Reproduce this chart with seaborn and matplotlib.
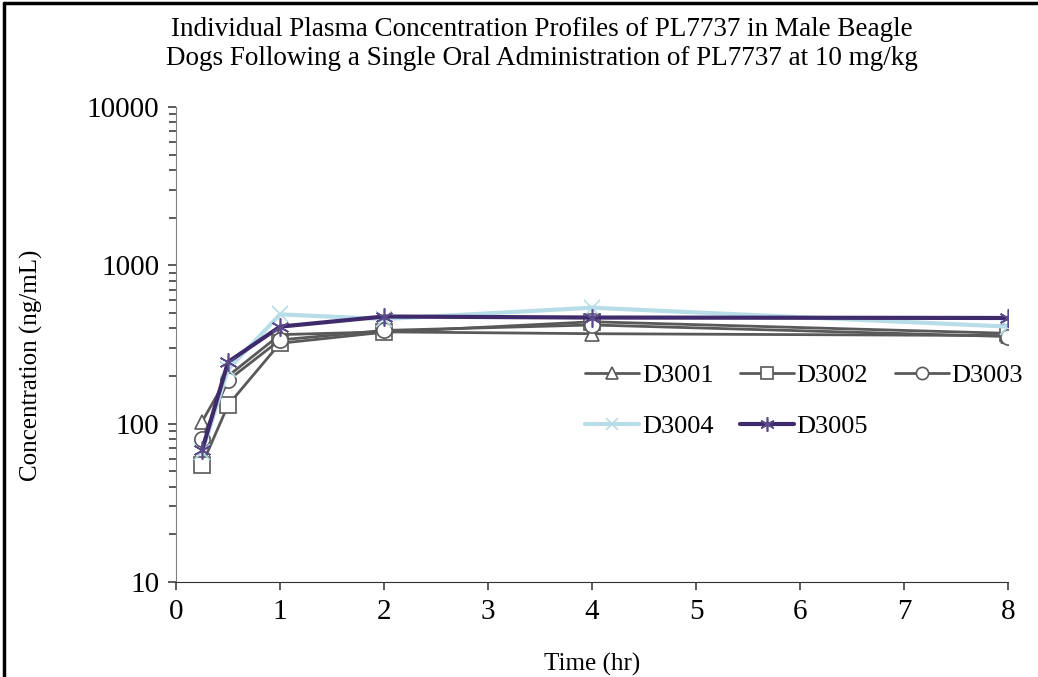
import pandas as pd
import matplotlib.pyplot as plt
import seaborn as sns
import numpy as np
from matplotlib.lines import Line2D

# time points (hr) and concentrations (ng/mL)
times = [0.25, 0.5, 1, 2, 4, 8]
d3001 = [103, 200, 365, 380, 370, 360]
d3002 = [55, 131, 322, 378, 440, 372]
d3003 = [80, 188, 338, 388, 420, 355]
d3004 = [66, 220, 490, 458, 540, 410]
d3005 = [68, 245, 410, 475, 468, 465]

subjects = ['D3001', 'D3002', 'D3003', 'D3004', 'D3005']
values = [d3001, d3002, d3003, d3004, d3005]

df = pd.DataFrame({
    'Time': times * len(subjects),
    'Conc': np.concatenate(values),
    'Subject': np.repeat(subjects, len(times)),
})

sns.set_style('ticks')
plt.rcParams['font.family'] = ['Liberation Serif', 'DejaVu Serif']
plt.rcParams['text.color'] = 'black'
plt.rcParams['axes.labelcolor'] = 'black'

fig = plt.figure(figsize=(10.38, 6.77), dpi=100)
ax = fig.add_axes([0.1696, 0.1403, 0.8016, 0.7017])

grey = '#595959'
styles = {
    'D3001': dict(color=grey, marker='^', lw=2.0, ms=10, mfc='white', mec=grey, mew=1.2),
    'D3002': dict(color=grey, marker='s', lw=2.0, ms=11, mfc='white', mec=grey, mew=1.2),
    'D3003': dict(color=grey, marker='o', lw=2.0, ms=11, mfc='white', mec=grey, mew=1.2),
    'D3004': dict(color='#b7dee8', marker='x', lw=3.0, ms=11, mfc='#b7dee8', mec='#b7dee8', mew=1.2),
    'D3005': dict(color='#3f2a6b', marker=(6, 2, 0), lw=3.0, ms=13, mfc='#3f2a6b', mec='#5a4a8a', mew=1.2),
}

# draw order: greys first, then blue and purple on top
for s in subjects:
    st = styles[s]
    sns.lineplot(data=df[df['Subject'] == s], x='Time', y='Conc', ax=ax,
                 color=st['color'], marker=st['marker'], linewidth=st['lw'],
                 markersize=st['ms'], markerfacecolor=st['mfc'],
                 markeredgecolor=st['mec'], markeredgewidth=st['mew'],
                 label=s, errorbar=None)

ax.set_yscale('log')
ax.set_ylim(10, 10000)
ax.set_xlim(0, 8)
ax.set_xticks(range(0, 9))
ax.set_yticks([10, 100, 1000, 10000])
ax.set_yticklabels(['10', '100', '1000', '10000'])

sns.despine(ax=ax)
ax.spines['left'].set_color('#808080')
ax.spines['bottom'].set_color('#303030')
ax.tick_params(axis='both', which='major', labelsize=21, length=6, width=1.2,
               colors='#404040', labelcolor='black', direction='out', pad=6)
ax.tick_params(axis='y', which='minor', length=5, width=1.2, colors='#404040')

ax.set_xlabel('Time (hr)', fontsize=18)
ax.set_ylabel('Concentration (ng/mL)', fontsize=18)
ax.xaxis.set_label_coords(0.5, -0.15)
ax.yaxis.set_label_coords(-0.16, 0.457)

fig.suptitle('Individual Plasma Concentration Profiles of PL7737 in Male Beagle\n'
             'Dogs Following a Single Oral Administration of PL7737 at 10 mg/kg',
             fontsize=19.5, x=0.522, y=0.975, linespacing=1.22, color='black')

# legend filled row by row like the original
handles, labels = ax.get_legend_handles_labels()
order = [0, 3, 1, 4, 2]
ax.legend([handles[i] for i in order], [labels[i] for i in order],
          loc='upper left', bbox_to_anchor=(0.4916, 0.46), ncol=3, frameon=False,
          fontsize=19, handlelength=2.05, handletextpad=0.1, columnspacing=1.0,
          labelspacing=1.05, borderaxespad=0, borderpad=0, markerscale=0.8)

# left/top frame line of the original image
fig.add_artist(Line2D([0.004, 0.004], [0, 0.996], color='black', lw=2.5, transform=fig.transFigure))
fig.add_artist(Line2D([0.004, 1], [0.996, 0.996], color='black', lw=2.5, transform=fig.transFigure))

fig.savefig('out.png', dpi=100)
